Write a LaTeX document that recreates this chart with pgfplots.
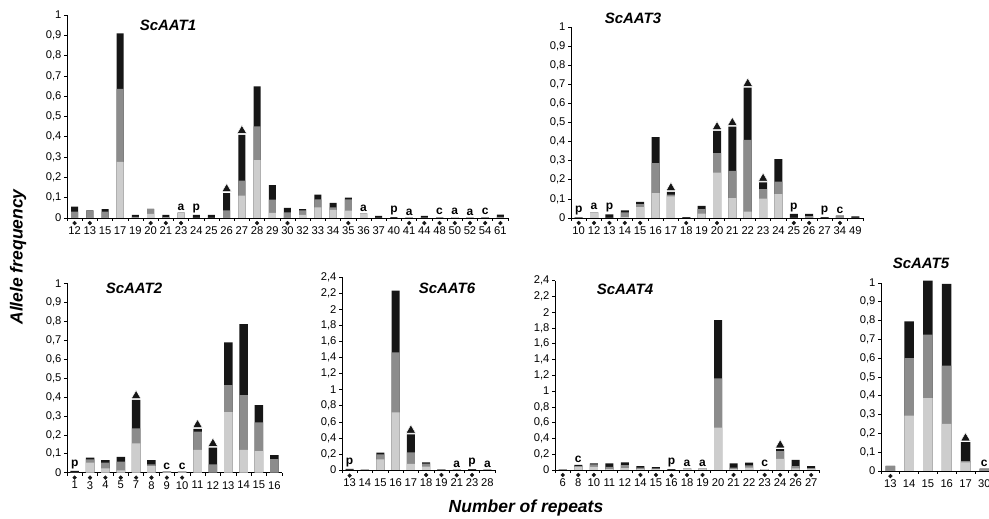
\documentclass[border=0pt]{standalone}
\usepackage{pgfplots}
\pgfplotsset{compat=1.18}
\usepackage{pgfplotstable}
\usepackage{fontspec}
\setmainfont{Liberation Sans}

\definecolor{lg}{RGB}{205,205,205}
\definecolor{mg}{RGB}{140,140,140}
\definecolor{dk}{RGB}{22,22,22}

\newcommand\tickfont{\fontsize{11.2}{12}\selectfont}
\newcommand\ttlfont{\fontsize{15}{17}\selectfont\bfseries\itshape}
\newcommand\labfont{\fontsize{17.5}{19}\selectfont\bfseries\itshape}

\pgfplotsset{
  panel/.style={
    scale only axis, anchor=south west, clip=false,
    axis lines=left, axis line style={-, line width=0.6pt},
    tick align=outside, major tick length=0pt, minor tick length=3pt,
    minor tick style={black, line width=0.6pt},
    ymin=0, xmin=-0.5,
    tick label style={font=\tickfont},
    yticklabel style={xshift=-2pt, /pgf/number format/.cd, use comma, fixed, precision=1, assume math mode=true},
    xticklabel style={yshift=-5pt},
  },
  bk/.style={ybar, bar width=#1, fill=dk, draw=none},
  bm/.style={ybar, bar width=#1, fill=mg, draw=none},
  bl/.style={ybar, bar width=#1, fill=lg, draw=none},
  tri/.style={only marks, mark=triangle*, mark size=5.5pt, mark options={fill=dk, draw=white, line width=0.5pt}},
  dot/.style={only marks, mark=*, mark size=1.9pt, color=dk},
  lett/.style={only marks, mark=none, nodes near coords, point meta=explicit symbolic,
    every node near coord/.append style={font=\fontsize{12}{13}\selectfont\bfseries, anchor=south, inner sep=1pt, yshift=1pt}},
}

% x = category index, t = top of black, m = top of mid grey, l = top of light grey
\pgfplotstableread{
x t m l
0 0.056 0.031 0
1 0.037 0.037 0
2 0.044 0.031 0
3 0.910 0.636 0.277
4 0.015 0.005 0
5 0.045 0.045 0.020
6 0.015 0.004 0
7 0.027 0.027 0.027
8 0.015 0 0
9 0.015 0 0
10 0.123 0.037 0
11 0.410 0.184 0.110
12 0.648 0.451 0.285
13 0.162 0.090 0.025
14 0.050 0.028 0
15 0.044 0.037 0.015
16 0.115 0.092 0.052
17 0.075 0.052 0.040
18 0.100 0.092 0.036
19 0.023 0.023 0.023
20 0.010 0 0
21 0.004 0 0
22 0.003 0.003 0.003
23 0.010 0.002 0
24 0.004 0.004 0
25 0.004 0.004 0.004
26 0.003 0.003 0.003
27 0.004 0.004 0
28 0.016 0.006 0
}\tAone

\pgfplotstableread{
x t m l
0 0.003 0 0
1 0.030 0.030 0.030
2 0.019 0 0
3 0.040 0.030 0.005
4 0.085 0.073 0.057
5 0.423 0.287 0.130
6 0.137 0.122 0.113
7 0.005 0 0
8 0.064 0.047 0.023
9 0.456 0.339 0.238
10 0.478 0.247 0.104
11 0.683 0.409 0.033
12 0.186 0.151 0.101
13 0.308 0.190 0.125
14 0.022 0 0
15 0.022 0.010 0
16 0.005 0 0
17 0.012 0.012 0
18 0.008 0 0
}\tAthree

\pgfplotstableread{
x t m l
0 0.010 0 0
1 0.079 0.070 0.053
2 0.067 0.053 0.023
3 0.083 0.058 0.012
4 0.384 0.234 0.155
5 0.067 0.044 0.035
6 0.005 0.005 0.003
7 0.005 0.005 0.005
8 0.231 0.217 0.120
9 0.132 0.044 0
10 0.688 0.463 0.320
11 0.785 0.410 0.120
12 0.357 0.266 0.114
13 0.093 0.072 0
}\tAtwo

\pgfplotstableread{
x t m l
0 0.015 0 0
1 0.008 0.008 0.008
2 0.216 0.195 0.133
3 2.234 1.466 0.718
4 0.444 0.220 0.075
5 0.095 0.079 0.042
6 0.008 0.008 0
7 0.005 0.005 0.005
8 0.012 0 0
9 0.004 0.004 0
}\tAsix

\pgfplotstableread{
x t m l
0 0.010 0.010 0
1 0.065 0.050 0.040
2 0.085 0.070 0.040
3 0.085 0.040 0.010
4 0.097 0.063 0.025
5 0.050 0.030 0.010
6 0.035 0.022 0.010
7 0.010 0 0
8 0.020 0.020 0.020
9 0.020 0.020 0.020
10 1.900 1.162 0.537
11 0.085 0.030 0.010
12 0.095 0.060 0.030
13 0.010 0.010 0.010
14 0.266 0.240 0.140
15 0.127 0.050 0.020
16 0.050 0.025 0.010
}\tAfour

\pgfplotstableread{
x t m l
0 0.027 0.027 0
1 0.796 0.600 0.295
2 1.012 0.725 0.387
3 0.995 0.561 0.250
4 0.153 0.053 0.046
5 0.012 0.012 0
}\tAfive

\begin{document}
\begin{tikzpicture}[x=1pt,y=1pt]
\useasboundingbox (0,0) rectangle (989,519);

% ScAAT1
\begin{axis}[panel, at={(67pt,301pt)}, width=441pt, height=203pt, xmax=28.5, ymax=1,
  ytick={0,0.1,0.2,0.3,0.4,0.5,0.6,0.7,0.8,0.9,1}, minor ytick={0,0.1,0.2,0.3,0.4,0.5,0.6,0.7,0.8,0.9,1},
  xtick={0,...,28}, minor xtick={-0.5,0.5,...,28.5},
  xticklabels={12,13,15,17,19,20,21,23,24,25,26,27,28,29,30,32,33,34,35,36,37,40,41,44,48,50,52,54,61}]
\addplot[bk=7pt] table[x=x,y=t] \tAone;
\addplot[bm=7pt] table[x=x,y=m] \tAone;
\addplot[bl=7pt] table[x=x,y=l] \tAone;
\addplot[tri] coordinates {(10,0.143) (11,0.430)};
\addplot[dot] coordinates {(0,-0.025) (1,-0.025) (5,-0.025) (6,-0.025) (7,-0.025) (12,-0.025) (14,-0.025) (18,-0.025) (22,-0.025) (23,-0.025) (24,-0.025) (25,-0.025) (26,-0.025) (27,-0.025) (28,-0.025)};
\addplot[lett] coordinates {(7,0.027)[a] (8,0.015)[p] (19,0.023)[a] (21,0.004)[p] (22,0.003)[a] (24,0.004)[c] (25,0.004)[a] (26,0.003)[a] (27,0.004)[c]};
\end{axis}

% ScAAT3
\begin{axis}[panel, at={(571pt,301pt)}, width=292pt, height=191pt, xmax=18.5, ymax=1,
  ytick={0,0.1,0.2,0.3,0.4,0.5,0.6,0.7,0.8,0.9,1}, minor ytick={0,0.1,0.2,0.3,0.4,0.5,0.6,0.7,0.8,0.9,1},
  xtick={0,...,18}, minor xtick={-0.5,0.5,...,18.5},
  xticklabels={10,12,13,14,15,16,17,18,19,20,21,22,23,24,25,26,27,34,49}]
\addplot[bk=8pt] table[x=x,y=t] \tAthree;
\addplot[bm=8pt] table[x=x,y=m] \tAthree;
\addplot[bl=8pt] table[x=x,y=l] \tAthree;
\addplot[tri] coordinates {(6,0.158) (9,0.477) (10,0.499) (11,0.704) (12,0.207)};
\addplot[dot] coordinates {(0,-0.026) (1,-0.026) (2,-0.026) (3,-0.026) (4,-0.026) (7,-0.026) (9,-0.026) (14,-0.026) (15,-0.026) (17,-0.026)};
\addplot[lett] coordinates {(0,0.003)[p] (1,0.030)[a] (2,0.019)[p] (14,0.022)[p] (16,0.005)[p] (17,0.012)[c]};
\end{axis}

% ScAAT2
\begin{axis}[panel, at={(67pt,46.3pt)}, width=215pt, height=189.4pt, xmax=13.5, ymax=1,
  ytick={0,0.1,0.2,0.3,0.4,0.5,0.6,0.7,0.8,0.9,1}, minor ytick={0,0.1,0.2,0.3,0.4,0.5,0.6,0.7,0.8,0.9,1},
  xtick={0,...,13}, minor xtick={-0.5,0.5,...,13.5},
  xticklabels={1,3,4,5,7,8,9,10,11,12,13,14,15,16}]
\addplot[bk=8.5pt] table[x=x,y=t] \tAtwo;
\addplot[bm=8.5pt] table[x=x,y=m] \tAtwo;
\addplot[bl=8.5pt] table[x=x,y=l] \tAtwo;
\addplot[tri] coordinates {(4,0.406) (8,0.253) (9,0.154)};
\addplot[dot] coordinates {(0,-0.026) (1,-0.026) (2,-0.026) (3,-0.026) (4,-0.026) (5,-0.026) (6,-0.026) (7,-0.026)};
\addplot[lett] coordinates {(0,0.010)[p] (6,0.005)[c] (7,0.005)[c]};
\end{axis}

% ScAAT6
\begin{axis}[panel, at={(342pt,49pt)}, width=153pt, height=192.7pt, xmax=9.5, ymax=2.4,
  ytick={0,0.2,0.4,0.6,0.8,1,1.2,1.4,1.6,1.8,2,2.2,2.4}, minor ytick={0,0.2,0.4,0.6,0.8,1,1.2,1.4,1.6,1.8,2,2.2,2.4},
  xtick={0,...,9}, minor xtick={-0.5,0.5,...,9.5},
  xticklabels={13,14,15,16,17,18,19,21,23,28}]
\addplot[bk=8pt] table[x=x,y=t] \tAsix;
\addplot[bm=8pt] table[x=x,y=m] \tAsix;
\addplot[bl=8pt] table[x=x,y=l] \tAsix;
\addplot[tri] coordinates {(4,0.495)};
\addplot[dot] coordinates {(0,-0.070) (5,-0.062) (6,-0.062) (7,-0.066) (8,-0.062)};
\addplot[lett] coordinates {(0,0.015)[p] (7,0.005)[a] (8,0.012)[p] (9,0.004)[a]};
\end{axis}

% ScAAT4
\begin{axis}[panel, at={(555pt,49pt)}, width=264pt, height=189.3pt, xmax=16.5, ymax=2.4,
  ytick={0,0.2,0.4,0.6,0.8,1,1.2,1.4,1.6,1.8,2,2.2,2.4}, minor ytick={0,0.2,0.4,0.6,0.8,1,1.2,1.4,1.6,1.8,2,2.2,2.4},
  xtick={0,...,16}, minor xtick={-0.5,0.5,...,16.5},
  xticklabels={6,8,10,11,12,14,15,16,18,19,20,21,22,23,24,26,27}]
\addplot[bk=8pt] table[x=x,y=t] \tAfour;
\addplot[bm=8pt] table[x=x,y=m] \tAfour;
\addplot[bl=8pt] table[x=x,y=l] \tAfour;
\addplot[tri] coordinates {(14,0.316)};
\addplot[dot] coordinates {(0,-0.063) (1,-0.063) (2,-0.063) (5,-0.063) (6,-0.063) (7,-0.070) (8,-0.063) (9,-0.063) (11,-0.063) (13,-0.063) (14,-0.063) (15,-0.063) (16,-0.063)};
\addplot[lett] coordinates {(1,0.065)[c] (7,0.010)[p] (8,0.020)[a] (9,0.020)[a] (13,0.010)[c]};
\end{axis}

% ScAAT5
\begin{axis}[panel, at={(881pt,48pt)}, width=108pt, height=188pt, xmax=5.25, ymax=1,
  ytick={0,0.1,0.2,0.3,0.4,0.5,0.6,0.7,0.8,0.9,1}, minor ytick={0,0.1,0.2,0.3,0.4,0.5,0.6,0.7,0.8,0.9,1},
  xtick={0,...,5}, minor xtick={-0.5,0.5,...,4.5},
  xticklabels={13,14,15,16,17,30}]
\addplot[bk=9.5pt] table[x=x,y=t] \tAfive;
\addplot[bm=9.5pt] table[x=x,y=m] \tAfive;
\addplot[bl=9.5pt] table[x=x,y=l] \tAfive;
\addplot[tri] coordinates {(4,0.175)};
\addplot[dot] coordinates {(0,-0.027)};
\addplot[lett] coordinates {(5,0.012)[c]};
\end{axis}

% panel titles and axis labels
\node[font=\ttlfont] at (168,494) {ScAAT1};
\node[font=\ttlfont] at (633,501) {ScAAT3};
\node[font=\ttlfont] at (134,231) {ScAAT2};
\node[font=\ttlfont] at (447,231) {ScAAT6};
\node[font=\ttlfont] at (625,230) {ScAAT4};
\node[font=\ttlfont] at (921,256) {ScAAT5};
\node[font=\labfont, rotate=90] at (18,262) {Allele frequency};
\node[font=\labfont] at (526,11) {Number of repeats};
\end{tikzpicture}
\end{document}
